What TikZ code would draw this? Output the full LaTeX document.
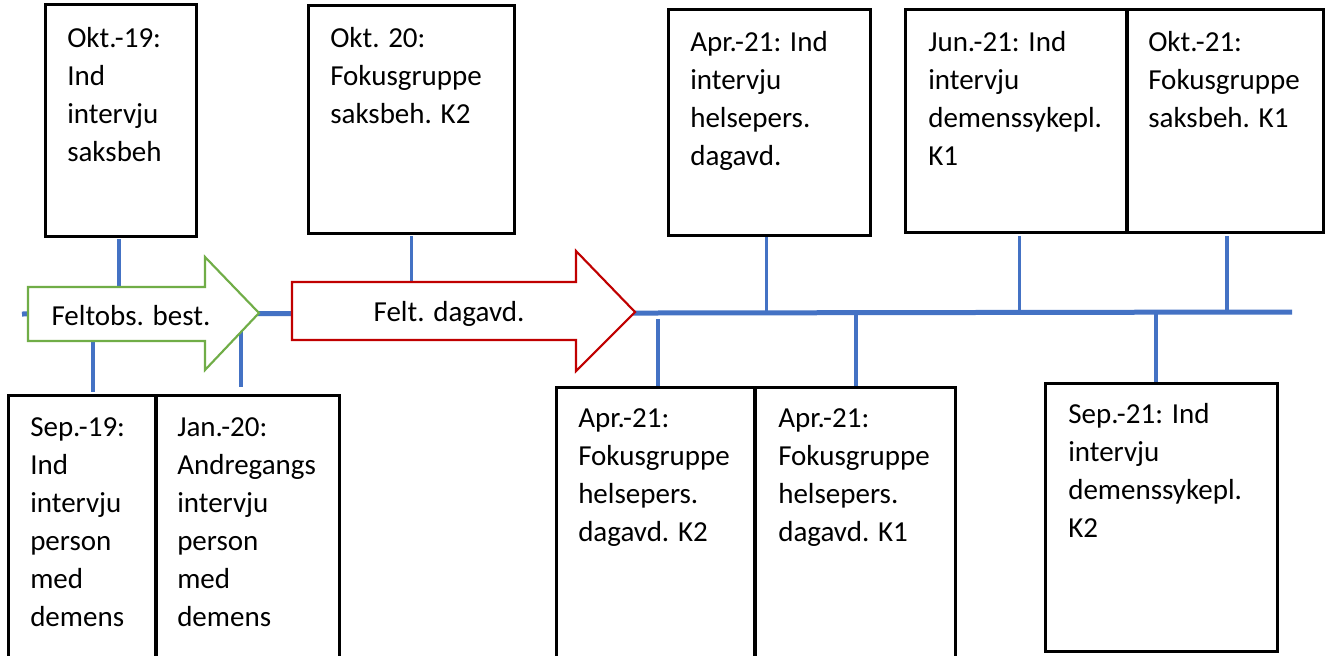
\documentclass[tikz,border=0pt]{standalone}
\usepackage{fontspec}
\setmainfont{Carlito}
\usetikzlibrary{calc,fit}
\definecolor{lineblue}{HTML}{4472C4}
\definecolor{arrgreen}{HTML}{70AD47}
\definecolor{arrred}{HTML}{C00000}
\begin{document}
\begin{tikzpicture}[x=0.75pt,y=-0.75pt,
  box/.style={draw=black,line width=1.5pt,fill=white,inner sep=0pt},
  txt/.style={anchor=north west,inner sep=0pt,align=left,font=\fontsize{21.75}{28.5}\selectfont},
  arrtxt/.style={anchor=base,inner sep=0pt,font=\fontsize{21.75}{28.5}\selectfont},
  conn/.style={draw=lineblue,line width=2.4pt},
  mainline/.style={draw=lineblue,line width=3.75pt},
  greenarrow/.style={draw=arrgreen,line width=1.6pt,fill=white},
  redarrow/.style={draw=arrred,line width=1.6pt,fill=white}]
\clip (0,0) rectangle (1327,656);
\fill[white] (0,0) rectangle (1327,656);

% boxes (geometry)
\node[box,fit={(46,5) (196,236)}] (A) {};
\node[box,fit={(309,6) (514,233)}] (B) {};
\node[box,fit={(669,10) (870,235)}] (C) {};
\node[box,fit={(906,10) (1127,232)}] (D) {};
\node[box,fit={(1127,10) (1323,232)}] (E) {};
\node[box,fit={(9,396) (156,690)}] (I) {};
\node[box,fit={(156,396) (339,690)}] (J) {};
\node[box,fit={(557,388) (755,690)}] (F) {};
\node[box,fit={(755,388) (955,690)}] (G) {};
\node[box,fit={(1046,384) (1277,651)}] (H) {};

% main line end points
\coordinate (L0) at (22,314);
\coordinate (L1) at (1292,312);

% connector anchor points
\coordinate (cA) at ($(A.south)+(-2,2)$);
\coordinate (cB) at ($(B.south)+(0,2)$);
\coordinate (cC) at ($(C.south)+(-3,0)$);
\coordinate (cD) at ($(D.south)+(3,3)$);
\coordinate (cE) at ($(E.south)+(2,3)$);
\coordinate (cI) at ($(I.north)+(10.5,-3)$);
\coordinate (cJ) at ($(J.north)+(-6.5,-8)$);
\coordinate (cF) at ($(F.north)+(2,0)$);
\coordinate (cF0) at ($(cF |- L1)+(0,7)$);
\coordinate (cG) at ($(G.north)+(1,0)$);
\coordinate (cH) at ($(H.north)+(-5.5,0)$);

\begin{scope}[on background layer/.style={}]
\draw[conn] (cA) -- (cA |- L0);
\draw[conn] (cB) -- (cB |- L0);
\draw[conn] (cC) -- (cC |- L1);
\draw[conn] (cD) -- (cD |- L1);
\draw[conn] (cE) -- (cE |- L1);
\draw[conn] (cI |- L0) -- (cI);
\draw[conn] (cJ |- L0) -- (cJ);
\draw[conn] (cF0) -- (cF);
\draw[conn] (cG |- L1) -- (cG);
\draw[conn] (cH |- L1) -- (cH);
\draw[mainline] (L0) -- (L1);
\end{scope}

% arrows
\draw[greenarrow] (28,287) -- (205,287) -- (205,257) -- (259,313) -- (205,370) -- (205,341) -- (28,341) -- cycle;
\draw[redarrow] (292,282) -- (576,282) -- (576,251) -- (635,312) -- (576,371) -- (576,340) -- (292,340) -- cycle;
\node[arrtxt] (g) at (131,325) {Feltobs. best.};
\node[arrtxt] (r) at (449,321) {Felt. dagavd.};

% redraw boxes on top of connectors
\foreach \n in {A,B,C,D,E,I,J,F,G,H} {
  \draw[black,line width=1.5pt] (\n.north west) rectangle (\n.south east);
}

% texts
\node[txt] (tA) at (67,20.4) {\strut Okt.-19:\\Ind\\intervju\\saksbeh};
\node[txt] (tB) at (330,20.4) {\strut Okt. 20:\\Fokusgruppe\\saksbeh. K2};
\node[txt] (tC) at (690,24.4) {\strut Apr.-21: Ind\\intervju\\helsepers.\\dagavd.};
\node[txt] (tD) at (928,24.4) {\strut Jun.-21: Ind\\intervju\\demenssykepl.\\K1};
\node[txt] (tE) at (1148,24.4) {\strut Okt.-21:\\Fokusgruppe\\saksbeh. K1};
\node[txt] (tF) at (578,400.4) {\strut Apr.-21:\\Fokusgruppe\\helsepers.\\dagavd. K2};
\node[txt] (tG) at (778,400.4) {\strut Apr.-21:\\Fokusgruppe\\helsepers.\\dagavd. K1};
\node[txt] (tH) at (1068,396.4) {\strut Sep.-21: Ind\\intervju\\demenssykepl.\\K2};
\node[txt] (tI) at (30,409.4) {\strut Sep.-19:\\Ind\\intervju\\person\\med\\demens};
\node[txt] (tJ) at (177,409.4) {\strut Jan.-20:\\Andregangs\\intervju\\person\\med\\demens};
\end{tikzpicture}
\end{document}
